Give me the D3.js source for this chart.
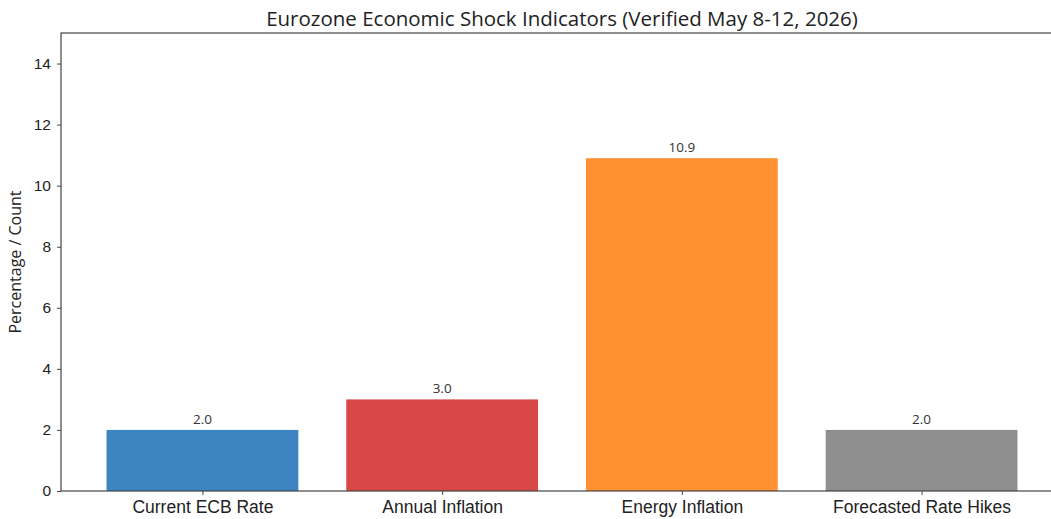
<!DOCTYPE html>
<meta charset="utf-8">
<title>Eurozone Economic Shock Indicators</title>
<style>
body { margin: 0; background: #fff; }
svg { display: block; font-family: "Open Sans", sans-serif; }
.axis text { font-size: 15.5px; fill: #222; }
.axis.x text { font-size: 17.5px; }
.axis path, .axis line { stroke: #444; }
.label { font-size: 13.5px; fill: #333; text-anchor: middle; }
.title { font-size: 20.5px; fill: #222; text-anchor: middle; }
</style>
<svg width="1051" height="519"></svg>
<script src="https://cdn.jsdelivr.net/npm/d3@7"></script>
<script>

var categories = ["Current ECB Rate", "Annual Inflation", "Energy Inflation", "Forecasted Rate Hikes"],
    values = [2.0, 3.0, 10.9, 2.0],
    colors = ["#3d85c0", "#d94646", "#ff9133", "#8f8f8f"],
    yTicks = [0, 2, 4, 6, 8, 10, 12, 14];

var svg = d3.select("svg");

var plotLeft = 61, plotRight = 1063, plotTop = 33, plotBottom = 491;

// matplotlib-style band: bars are 0.8 wide, x limits -0.59..n-0.41
var x = d3.scaleLinear()
    .domain([-0.59, categories.length - 0.41])
    .range([plotLeft, plotRight]);

var y = d3.scaleLinear()
    .domain([0, 15])
    .range([plotBottom, plotTop]);

var barW = x(0.8) - x(0);

svg.selectAll(".bar")
    .data(values)
  .enter().append("rect")
    .attr("class", "bar")
    .attr("x", function(d, i) { return x(i) - barW / 2; })
    .attr("y", function(d) { return y(d); })
    .attr("width", barW)
    .attr("height", function(d) { return y(0) - y(d); })
    .attr("fill", function(d, i) { return colors[i]; });

svg.selectAll(".label")
    .data(values)
  .enter().append("text")
    .attr("class", "label")
    .attr("x", function(d, i) { return x(i); })
    .attr("y", function(d) { return y(d) - 6; })
    .text(function(d) { return d.toFixed(1); });

// spines
svg.append("rect")
    .attr("x", plotLeft)
    .attr("y", plotTop)
    .attr("width", plotRight - plotLeft)
    .attr("height", plotBottom - plotTop)
    .attr("fill", "none")
    .attr("stroke", "#444")
    .attr("stroke-width", 1.2);

svg.append("g")
    .attr("class", "axis y")
    .attr("transform", "translate(" + plotLeft + ",0)")
    .call(d3.axisLeft(y).tickValues(yTicks).tickSize(4).tickPadding(6))
    .call(function(g) { g.select(".domain").remove(); });

svg.append("g")
    .attr("class", "axis x")
    .attr("transform", "translate(0," + plotBottom + ")")
    .call(d3.axisBottom(x).tickValues(d3.range(categories.length))
      .tickFormat(function(i) { return categories[i]; })
      .tickSize(4).tickPadding(6))
    .call(function(g) { g.select(".domain").remove(); });

svg.append("text")
    .attr("transform", "translate(21," + (plotTop + plotBottom) / 2 + ") rotate(-90)")
    .attr("text-anchor", "middle")
    .style("font-size", "16px")
    .attr("fill", "#222")
    .text("Percentage / Count");

svg.append("text")
    .attr("class", "title")
    .attr("x", (plotLeft + plotRight) / 2)
    .attr("y", 26)
    .text("Eurozone Economic Shock Indicators (Verified May 8-12, 2026)");

</script>
